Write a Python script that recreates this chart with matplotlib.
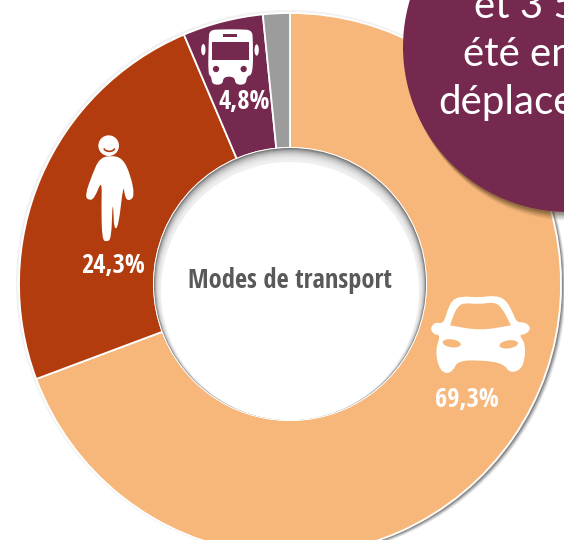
import numpy as np
import matplotlib
matplotlib.use("Agg")
import matplotlib.pyplot as plt
from matplotlib.patches import Circle, PathPatch, Ellipse, FancyBboxPatch
from matplotlib.path import Path

modes = ["Voiture", "Marche", "Bus", "Autre"]
shares = [69.3, 24.3, 4.8, 1.6]
share_labels = ["69,3%", "24,3%", "4,8%"]
colors = ["#F7B77B", "#B23C0D", "#76294F", "#9C9C9C"]
title = "Modes de transport"
bubble_lines = ["et 3 5", "été en", "déplace"]

W, H = 564, 540
PLUM = "#76294F"
PEACH = colors[0]
RUST = colors[1]
cx, cy, R, r = 290, 284, 271, 136
fig = plt.figure(figsize=(W/100, H/100), dpi=100, facecolor="white")
ax = fig.add_axes([0, 0, 1, 1])

def Y(y):
    return H - y

# outer shadow
for d, a in [(5, .10), (4, .18), (3, .30), (2, .40)]:
    ax.add_patch(Circle((cx+d, Y(cy+d*0.6)), R, fc="#555555", ec="none", alpha=a, zorder=1))
ax.add_patch(Circle((cx-1, Y(cy-1)), R+2, fc="#e6e6e6", ec="none", alpha=.5, zorder=1))

ax.pie(shares, colors=colors, startangle=90, counterclock=False,
       radius=R, center=(cx, Y(cy)),
       wedgeprops=dict(width=R-r, edgecolor="white", linewidth=1.3, zorder=2))
ax.set_xlim(0, W)
ax.set_ylim(0, H)
ax.set_aspect("auto")
ax.axis("off")

# hole with inner shadow
ax.add_patch(Circle((cx, Y(cy)), r+1, fc="white", ec="none", zorder=3))
ax.add_patch(Circle((cx, Y(cy)), r, fc="#707070", ec="none", zorder=3.01))
N = 24
for k in range(1, N+1):
    u = k/N
    ax.add_patch(Circle((cx, Y(cy+6*u)), r-6*u, fc="white", ec="none", alpha=.10,
                        zorder=3.02+k*0.001))
ax.add_patch(Circle((cx, Y(cy+7)), r-7, fc="white", ec="none", zorder=3.2))

def smooth(pts, ox, oy, s=3.0):
    p = np.array([[ox + a/s, Y(oy + b/s)] for a, b in pts])
    n = len(p)
    verts = [(p[-1]+p[0])/2]
    codes = [Path.MOVETO]
    for i in range(n):
        verts += [p[i], (p[i]+p[(i+1) % n])/2]
        codes += [Path.CURVE3, Path.CURVE3]
    return verts, codes

def blob(pts_list, ox, oy, fc="white", z=5):
    V, C = [], []
    for pts in pts_list:
        v, c = smooth(pts, ox, oy)
        V += v; C += c
    ax.add_patch(PathPatch(Path(V, C), fc=fc, ec="none", zorder=z))

# car
car = [(70,132),(82,92),(96,60),(125,48),(175,53),(225,46),(256,58),(276,92),(290,128),
       (316,126),(334,145),(316,164),(296,164),(316,190),(314,245),(298,272),(268,278),(250,250),
       (180,240),(112,243),(100,272),(78,282),(56,264),(46,210),(62,165),(42,164),(30,145),(46,126)]
win = [(90,136),(90,136),(108,85),(130,68),(175,73),(225,66),(247,85),(273,136),(273,136),(180,152)]
blob([car, win[::-1]], 420, 280)
ax.add_patch(Ellipse((420+95/3, Y(280+190/3)), 55/3, 24/3, angle=-8, fc=PEACH, ec="none", zorder=6))
ax.add_patch(Ellipse((420+266/3, Y(280+193/3)), 56/3, 24/3, angle=8, fc=PEACH, ec="none", zorder=6))

# walker
ox, oy = 60, 120
ax.add_patch(Circle((ox+146/3, Y(oy+77/3)), 31/3, fc="white", ec="none", zorder=5))
t = np.radians(np.linspace(200, 340, 20))
ax.plot(ox+(148+16*np.cos(t))/3, Y(oy+(84-10*np.sin(t))/3), color=RUST, lw=1.2, zorder=6)
body = [(118,116),(98,160),(74,228),(88,242),(104,234),(126,178),(124,260),(126,358),(140,366),(154,356),
        (157,258),(160,258),(162,330),(176,318),(190,190),(195,234),(208,243),(224,228),(212,166),(188,114),(150,106)]
blob([body], ox, oy)

# bus
ox, oy = 180, 0
bus = [(86,120),(88,90),(125,88),(180,88),(216,90),(219,120),(219,224),(200,228),(198,254),(166,254),(164,230),
       (130,230),(128,254),(96,254),(94,228),(84,224)]
blob([bus], ox, oy)
ax.add_patch(FancyBboxPatch((ox+97/3, Y(oy+181/3)), 110/3, 56/3, boxstyle="square,pad=0", fc=PLUM, ec="none", zorder=6))
ax.add_patch(FancyBboxPatch((ox+130/3, Y(oy+110/3)), 40/3, 9/3, boxstyle="square,pad=0", fc=PLUM, ec="none", zorder=6))
for a in (108, 191):
    ax.add_patch(Circle((ox+a/3, Y(oy+207/3)), 9.5/3, fc=PLUM, ec="none", zorder=6))
for a, b in ((70, 149), (230, 150)):
    ax.add_patch(Ellipse((ox+a/3, Y(oy+b/3)), 13/3, 34/3, fc="white", ec="none", zorder=5))

# labels
cond = dict(family="Open Sans Condensed", weight="bold", ha="center", va="center", zorder=7)
for (x, y), s in zip([(467, 399), (113, 266), (244, 101)], share_labels):
    ax.text(x, Y(y), s, color="white", fontsize=19, **cond)
ax.text(290, Y(281), title, color="#595959", fontsize=19, **cond)

# bubble
bx, by, br = 568, 47, 165
for d, a in [(9, .05), (8, .06), (7, .07), (6, .08), (5, .09), (4, .10), (3, .12), (2, .14)]:
    ax.add_patch(Circle((bx+d*0.5, Y(by+d)), br, fc="#3a2a10", ec="none", alpha=a, zorder=8))
ax.add_patch(Circle((bx, Y(by)), br, fc=PLUM, ec="none", zorder=9))
for (x, y), s in zip([(474, 18), (463, 66), (438, 114)], bubble_lines):
    ax.text(x, Y(y), s, color="white", fontsize=29, family="Lato", weight="normal",
            ha="left", va="baseline", zorder=10, clip_on=True)

fig.savefig("out.png", dpi=100, facecolor="white")
